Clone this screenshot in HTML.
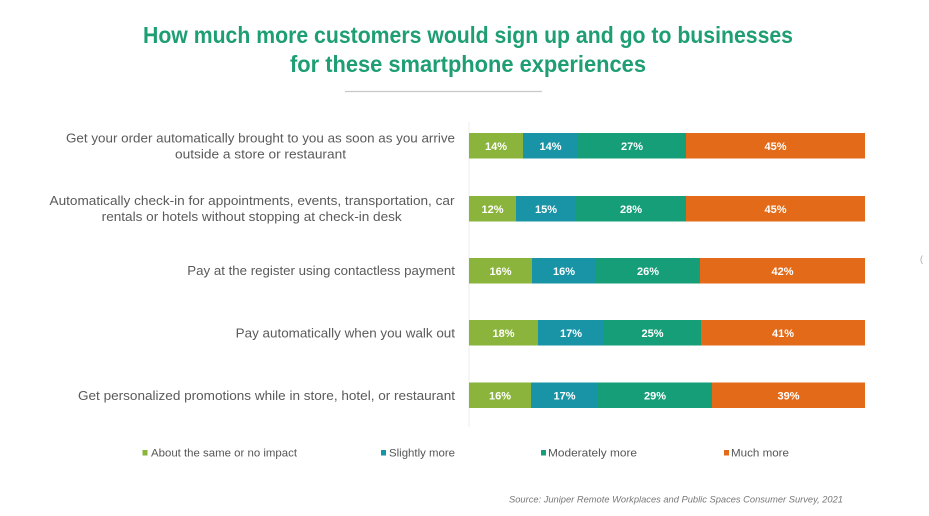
<!DOCTYPE html>
<html>
<head>
<meta charset="utf-8">
<style>
  html, body { margin: 0; padding: 0; background: #ffffff; }
  svg { display: block; }
  .lbl { font-family: "Liberation Sans", sans-serif; font-size: 13px; fill: #5a5a5a; }
  .val { font-family: "Liberation Sans", sans-serif; font-size: 11px; font-weight: bold; fill: #ffffff; text-anchor: middle; }
  .ttl { font-family: "Liberation Sans", sans-serif; font-size: 23px; font-weight: bold; fill: #1e9e73; }
  .leg { font-family: "Liberation Sans", sans-serif; font-size: 11px; fill: #555555; }
  .src { font-family: "Liberation Sans", sans-serif; font-size: 9.5px; font-style: italic; fill: #777777; }
</style>
</head>
<body>
<svg width="929" height="516" viewBox="0 0 929 516" xmlns="http://www.w3.org/2000/svg">
  <rect width="929" height="516" fill="#ffffff"/>

  <!-- Title -->
  <text class="ttl" x="143" y="43" textLength="650" lengthAdjust="spacingAndGlyphs">How much more customers would sign up and go to businesses</text>
  <text class="ttl" x="290" y="72" textLength="356" lengthAdjust="spacingAndGlyphs">for these smartphone experiences</text>
  <line x1="345" y1="91.5" x2="542" y2="91.5" stroke="#c8c8c8" stroke-width="1.2"/>

  <!-- axis line -->
  <line x1="469" y1="122" x2="469" y2="427" stroke="#ececec" stroke-width="1"/>

  <!-- Category labels -->
  <text class="lbl" x="66" y="142.5" textLength="389" lengthAdjust="spacingAndGlyphs">Get your order automatically brought to you as soon as you arrive</text>
  <text class="lbl" x="175" y="158.5" textLength="171" lengthAdjust="spacingAndGlyphs">outside a store or restaurant</text>
  <text class="lbl" x="49.5" y="205" textLength="405" lengthAdjust="spacingAndGlyphs">Automatically check-in for appointments, events, transportation, car</text>
  <text class="lbl" x="101.7" y="221" textLength="300" lengthAdjust="spacingAndGlyphs">rentals or hotels without stopping at check-in desk</text>
  <text class="lbl" x="187.3" y="275" textLength="267.7" lengthAdjust="spacingAndGlyphs">Pay at the register using contactless payment</text>
  <text class="lbl" x="235.7" y="337.5" textLength="219.3" lengthAdjust="spacingAndGlyphs">Pay automatically when you walk out</text>
  <text class="lbl" x="78" y="400" textLength="377" lengthAdjust="spacingAndGlyphs">Get personalized promotions while in store, hotel, or restaurant</text>

  <!-- Bar 1 -->
  <g>
    <rect x="469" y="133" width="54" height="25.5" fill="#8ab43b"/>
    <rect x="523" y="133" width="55" height="25.5" fill="#1894a6"/>
    <rect x="578" y="133" width="108" height="25.5" fill="#169e79"/>
    <rect x="686" y="133" width="179" height="25.5" fill="#e36a19"/>
    <text class="val" x="496" y="150">14%</text>
    <text class="val" x="550.5" y="150">14%</text>
    <text class="val" x="632" y="150">27%</text>
    <text class="val" x="775.5" y="150">45%</text>
  </g>
  <!-- Bar 2 -->
  <g>
    <rect x="469" y="196" width="47" height="25.5" fill="#8ab43b"/>
    <rect x="516" y="196" width="60" height="25.5" fill="#1894a6"/>
    <rect x="576" y="196" width="110" height="25.5" fill="#169e79"/>
    <rect x="686" y="196" width="179" height="25.5" fill="#e36a19"/>
    <text class="val" x="492.5" y="213">12%</text>
    <text class="val" x="546" y="213">15%</text>
    <text class="val" x="631" y="213">28%</text>
    <text class="val" x="775.5" y="213">45%</text>
  </g>
  <!-- Bar 3 -->
  <g>
    <rect x="469" y="258" width="63" height="25.5" fill="#8ab43b"/>
    <rect x="532" y="258" width="64" height="25.5" fill="#1894a6"/>
    <rect x="596" y="258" width="104" height="25.5" fill="#169e79"/>
    <rect x="700" y="258" width="165" height="25.5" fill="#e36a19"/>
    <text class="val" x="500.5" y="275">16%</text>
    <text class="val" x="564" y="275">16%</text>
    <text class="val" x="648" y="275">26%</text>
    <text class="val" x="782.5" y="275">42%</text>
  </g>
  <!-- Bar 4 -->
  <g>
    <rect x="469" y="320" width="69" height="25.5" fill="#8ab43b"/>
    <rect x="538" y="320" width="66" height="25.5" fill="#1894a6"/>
    <rect x="604" y="320" width="97" height="25.5" fill="#169e79"/>
    <rect x="701" y="320" width="164" height="25.5" fill="#e36a19"/>
    <text class="val" x="503.5" y="337">18%</text>
    <text class="val" x="571" y="337">17%</text>
    <text class="val" x="652.5" y="337">25%</text>
    <text class="val" x="783" y="337">41%</text>
  </g>
  <!-- Bar 5 -->
  <g>
    <rect x="469" y="382.5" width="62" height="25.5" fill="#8ab43b"/>
    <rect x="531" y="382.5" width="67" height="25.5" fill="#1894a6"/>
    <rect x="598" y="382.5" width="114" height="25.5" fill="#169e79"/>
    <rect x="712" y="382.5" width="153" height="25.5" fill="#e36a19"/>
    <text class="val" x="500" y="399.5">16%</text>
    <text class="val" x="564.5" y="399.5">17%</text>
    <text class="val" x="655" y="399.5">29%</text>
    <text class="val" x="788.5" y="399.5">39%</text>
  </g>

  <!-- Legend -->
  <rect x="142.5" y="450" width="5" height="5.5" fill="#8ab43b"/>
  <text class="leg" x="151" y="456.5" textLength="146" lengthAdjust="spacingAndGlyphs">About the same or no impact</text>
  <rect x="381" y="450" width="5" height="5.5" fill="#1894a6"/>
  <text class="leg" x="389" y="456.5" textLength="66" lengthAdjust="spacingAndGlyphs">Slightly more</text>
  <rect x="541" y="450" width="5" height="5.5" fill="#169e79"/>
  <text class="leg" x="548" y="456.5" textLength="89" lengthAdjust="spacingAndGlyphs">Moderately more</text>
  <rect x="724" y="450" width="5" height="5.5" fill="#e36a19"/>
  <text class="leg" x="731" y="456.5" textLength="58" lengthAdjust="spacingAndGlyphs">Much more</text>

  <!-- Source -->
  <text class="src" x="509" y="502.5" textLength="334" lengthAdjust="spacingAndGlyphs">Source: Juniper Remote Workplaces and Public Spaces Consumer Survey, 2021</text>

  <!-- stray mark at right edge -->
  <text x="920" y="262" style="font-family:'Liberation Sans',sans-serif;font-size:9px;fill:#aaaaaa;">(</text>
</svg>
</body>
</html>
